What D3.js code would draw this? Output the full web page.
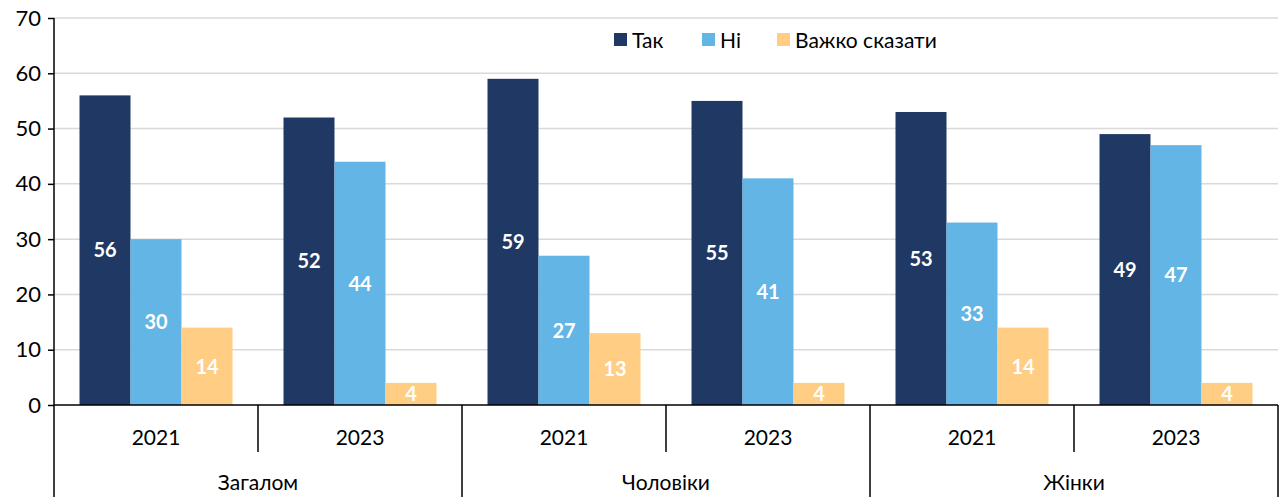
<!DOCTYPE html>
<html>
<head>
<meta charset="utf-8">
<script src="https://cdn.jsdelivr.net/npm/d3@7"></script>
<style>
  body { margin: 0; background: #fff; }
  text { font-family: Lato, "Open Sans", sans-serif; }
</style>
</head>
<body>
<div id="chart"></div>
<script>
var groups = ["Загалом", "Чоловіки", "Жінки"];
var years = ["2021", "2023"];
var seriesNames = ["Так", "Ні", "Важко сказати"];
var yesValues = [56, 52, 59, 55, 53, 49];
var noValues = [30, 44, 27, 41, 33, 47];
var hardValues = [14, 4, 13, 4, 14, 4];
var yTicks = [0, 10, 20, 30, 40, 50, 60, 70];
var colors = ["#203864", "#63B5E5", "#FFCD83"];

var svg_Width = 1282, svg_Height = 497;
var margin = { top: 18, right: 4, bottom: 92, left: 54 };
var chart_Width = svg_Width - margin.left - margin.right;
var chart_Height = svg_Height - margin.top - margin.bottom;

var svg = d3.select("#chart").append("svg")
    .attr("width", svg_Width).attr("height", svg_Height);
var g = svg.append("g")
    .attr("transform", "translate(" + margin.left + "," + margin.top + ")");

// one slot per group/year pair
var slots = [];
groups.forEach(function(gr, gi) {
  years.forEach(function(yr, yi) {
    slots.push({ key: gr + "|" + yr, group: gr, year: yr, i: slots.length });
  });
});
var allSeries = [yesValues, noValues, hardValues];

var x0 = d3.scaleBand().domain(slots.map(function(d) { return d.key; }))
    .range([0, chart_Width]).padding(0);
var x1 = d3.scaleBand().domain(seriesNames)
    .range([0, x0.bandwidth()]).paddingInner(0).paddingOuter(0.5);
var yScale = d3.scaleLinear().domain([0, 70]).range([chart_Height, 0]);

// gridlines
g.selectAll(".grid").data(yTicks.filter(function(t) { return t > 0; }))
  .enter().append("line")
  .attr("x1", 0).attr("x2", chart_Width)
  .attr("y1", function(d) { return yScale(d); })
  .attr("y2", function(d) { return yScale(d); })
  .attr("stroke", "#d9d9d9").attr("stroke-width", 1.5);

// bars
var slotG = g.selectAll(".slot").data(slots).enter().append("g")
  .attr("transform", function(d) { return "translate(" + x0(d.key) + ",0)"; });

slotG.each(function(s) {
  var sel = d3.select(this);
  var data = seriesNames.map(function(name, k) {
    return { name: name, value: allSeries[k][s.i], color: colors[k] };
  });
  sel.selectAll("rect").data(data).enter().append("rect")
    .attr("x", function(d) { return x1(d.name); })
    .attr("width", x1.bandwidth())
    .attr("y", function(d) { return yScale(d.value); })
    .attr("height", function(d) { return chart_Height - yScale(d.value); })
    .attr("fill", function(d) { return d.color; });
  sel.selectAll("text").data(data).enter().append("text")
    .attr("x", function(d) { return x1(d.name) + x1.bandwidth() / 2; })
    .attr("y", function(d) { return (yScale(d.value) + chart_Height) / 2; })
    .attr("dy", "0.36em")
    .attr("text-anchor", "middle")
    .attr("fill", "#fff").attr("font-weight", "bold").attr("font-size", "20px")
    .text(function(d) { return d.value; });
});

// y axis
var leftAxis = d3.axisLeft(yScale).tickValues(yTicks).tickSize(6).tickPadding(7);
var yAxisG = g.append("g").call(leftAxis);
yAxisG.select(".domain").attr("stroke", "#000").attr("stroke-width", 1.5)
  .attr("d", "M0," + chart_Height + "V0");
yAxisG.selectAll(".tick line").attr("stroke", "#000").attr("stroke-width", 1.5);
yAxisG.selectAll(".tick text").attr("font-size", "22px").attr("fill", "#000")
  .style("font-family", "Lato, sans-serif");

// x axis line
g.append("line").attr("x1", 0).attr("x2", chart_Width)
  .attr("y1", chart_Height).attr("y2", chart_Height)
  .attr("stroke", "#000").attr("stroke-width", 1.5);

// year separators (short) and group separators (long)
slots.forEach(function(s) {
  var xs = x0(s.key) + x0.bandwidth();
  var isGroupEnd = s.i % 2 === 1;
  g.append("line").attr("x1", xs).attr("x2", xs)
    .attr("y1", chart_Height)
    .attr("y2", isGroupEnd ? svg_Height - margin.top : chart_Height + 47)
    .attr("stroke", "#000").attr("stroke-width", 1.5);
  g.append("text")
    .attr("x", x0(s.key) + x0.bandwidth() / 2)
    .attr("y", chart_Height + 32)
    .attr("dy", "0.36em")
    .attr("text-anchor", "middle").attr("font-size", "21px").attr("fill", "#000")
    .text(s.year);
});
g.append("line").attr("x1", 0).attr("x2", 0)
  .attr("y1", chart_Height).attr("y2", svg_Height - margin.top)
  .attr("stroke", "#000").attr("stroke-width", 1.5);

groups.forEach(function(gr, gi) {
  var a = x0(gr + "|" + years[0]);
  var b = x0(gr + "|" + years[1]) + x0.bandwidth();
  g.append("text")
    .attr("x", (a + b) / 2).attr("y", chart_Height + 77)
    .attr("dy", "0.36em")
    .attr("text-anchor", "middle").attr("font-size", "21px").attr("fill", "#000")
    .text(gr);
});

// legend
var legendX = [614, 702, 777];
var legend = svg.append("g");
seriesNames.forEach(function(name, k) {
  legend.append("rect").attr("x", legendX[k]).attr("y", 33)
    .attr("width", 13).attr("height", 13).attr("fill", colors[k]);
  legend.append("text").attr("x", legendX[k] + 18).attr("y", 40)
    .attr("dy", "0.36em").attr("font-size", "21px").attr("fill", "#000")
    .text(name);
});
</script>
</body>
</html>
